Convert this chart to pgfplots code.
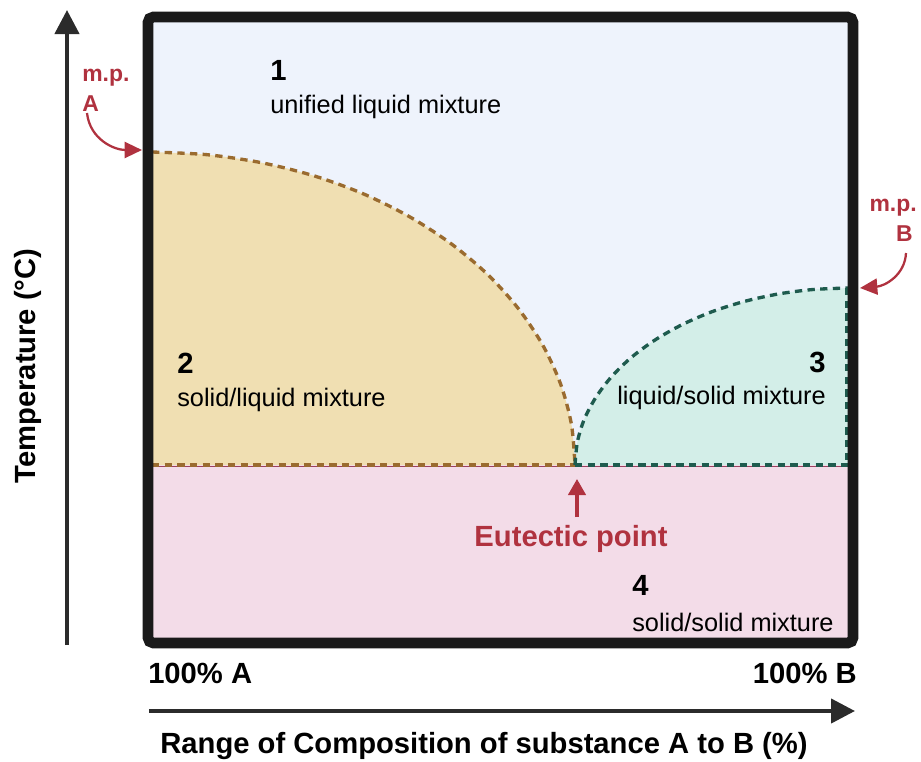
\documentclass[border=0pt]{standalone}
\usepackage{pgfplots}
\pgfplotsset{compat=1.18}
\usetikzlibrary{arrows.meta}
\usepackage{fontspec}
\setmainfont{Liberation Sans}
\definecolor{bgblue}{HTML}{EEF3FC}
\definecolor{tanfill}{HTML}{F0DFB2}
\definecolor{tealfill}{HTML}{D3EEE8}
\definecolor{pinkfill}{HTML}{F3DCE8}
\definecolor{tandash}{HTML}{9A6B2F}
\definecolor{tealdash}{HTML}{1E5B4E}
\definecolor{mpred}{HTML}{B0323F}
\definecolor{boxblack}{HTML}{1A1A1A}
\definecolor{arrgray}{HTML}{2B2B2B}
\definecolor{maroon}{HTML}{9C4060}
\begin{document}
\begin{tikzpicture}
\begin{axis}[
  width=528.75pt, height=469.5pt, scale only axis,
  xmin=148, xmax=853, ymin=17, ymax=643, y dir=reverse,
  xtick=\empty, ytick=\empty,
  clip=false,
  axis line style={draw=none},
]
% background
\addplot[fill=bgblue, draw=none] coordinates {(148,17) (853,17) (853,643) (148,643)} -- cycle;
\addplot[fill=pinkfill, draw=none] coordinates {(148,465) (853,465) (853,643) (148,643)} -- cycle;
% left lobe fill
\addplot[fill=tanfill, draw=none, smooth] coordinates {
(148,152) (207.2,154.7) (261.5,162.7) (313.9,175.8) (363.5,193.9) (409.5,216.7) (451.1,243.7)
(487.6,274.4) (518.3,308.5) (542.8,345.2) (560.6,384.0) (571.4,424.2) (575,465)} -- (axis cs:148,465) -- cycle;
% right lobe fill
\addplot[fill=tealfill, draw=none, smooth] coordinates {
(575,465) (577.4,441.9) (584.3,419.2) (595.9,397.3) (611.7,376.5) (631.6,357.2) (655.3,339.8)
(682.2,324.6) (712,311.7) (744.1,301.5) (778.1,294.0) (813.2,289.5) (853,288)} -- (axis cs:853,465) -- cycle;
% eutectic line
\addplot[draw=maroon, line width=0.6pt] coordinates {(152,466.5) (849,466.5)};
% dashed curves
\addplot[draw=tandash, line width=2.5pt, dash pattern=on 5.5pt off 4pt, smooth] coordinates {
(152,152) (207.2,154.7) (261.5,162.7) (313.9,175.8) (363.5,193.9) (409.5,216.7) (451.1,243.7)
(487.6,274.4) (518.3,308.5) (542.8,345.2) (560.6,384.0) (571.4,424.2) (575,465)};
\addplot[draw=tandash, line width=2.5pt, dash pattern=on 5.5pt off 4pt] coordinates {(152,465) (575,465)};
\addplot[draw=tealdash, line width=2.5pt, dash pattern=on 5.5pt off 4pt, smooth] coordinates {
(575,465) (577.4,441.9) (584.3,419.2) (595.9,397.3) (611.7,376.5) (631.6,357.2) (655.3,339.8)
(682.2,324.6) (712,311.7) (744.1,301.5) (778.1,294.0) (813.2,289.5) (849,288)};
\addplot[draw=tealdash, line width=2.5pt, dash pattern=on 5.5pt off 4pt] coordinates {(575,465) (849,465)};
\addplot[draw=tealdash, line width=2.5pt, dash pattern=on 5.5pt off 4pt] coordinates {(847,288) (847,465)};
% border
\draw[boxblack, line width=8pt, rounded corners=4pt] (axis cs:148,17) rectangle (axis cs:853,643);
% region labels
\node[anchor=west, inner sep=0pt, font=\bfseries\fontsize{21.9}{24}\selectfont] at (axis cs:270,70) {1};
\node[anchor=west, inner sep=0pt, font=\fontsize{19}{22}\selectfont] at (axis cs:270,107) {unified liquid mixture};
\node[anchor=west, inner sep=0pt, font=\bfseries\fontsize{21.9}{24}\selectfont] at (axis cs:177,363) {2};
\node[anchor=west, inner sep=0pt, font=\fontsize{19}{22}\selectfont] at (axis cs:177,400) {solid/liquid mixture};
\node[anchor=east, inner sep=0pt, font=\bfseries\fontsize{21.9}{24}\selectfont] at (axis cs:826,362) {3};
\node[anchor=east, inner sep=0pt, font=\fontsize{19}{22}\selectfont] at (axis cs:826,398) {liquid/solid mixture};
\node[anchor=west, inner sep=0pt, font=\bfseries\fontsize{21.9}{24}\selectfont] at (axis cs:632,585) {4};
\node[anchor=west, inner sep=0pt, font=\fontsize{19}{22}\selectfont] at (axis cs:632,622) {solid/solid mixture};
% eutectic
\draw[mpred, line width=2.4pt, -{Triangle[length=12pt,width=13pt]}] (axis cs:577,517) -- (axis cs:577,479);
\node[inner sep=0pt, text=mpred, font=\bfseries\fontsize{21.9}{24}\selectfont] at (axis cs:571,539) {Eutectic point};
% m.p. labels
\node[anchor=west, inner sep=0pt, text=mpred, font=\bfseries\fontsize{17.2}{20}\selectfont] at (axis cs:82,78) {m.p.};
\node[anchor=west, inner sep=0pt, text=mpred, font=\bfseries\fontsize{17.2}{20}\selectfont] at (axis cs:82,104) {A};
\draw[mpred, line width=1.7pt, -{Triangle[length=13pt,width=12pt]}] (axis cs:87,113) .. controls (axis cs:90,140) and (axis cs:115,150) .. (axis cs:142,150);
\node[anchor=east, inner sep=0pt, text=mpred, font=\bfseries\fontsize{17.2}{20}\selectfont] at (axis cs:917,208) {m.p.};
\node[anchor=east, inner sep=0pt, text=mpred, font=\bfseries\fontsize{17.2}{20}\selectfont] at (axis cs:913,234) {B};
\draw[mpred, line width=1.7pt, -{Triangle[length=13pt,width=12pt]}] (axis cs:906,253) .. controls (axis cs:905,275) and (axis cs:885,286) .. (axis cs:860,288);
% axis arrows and labels
\draw[arrgray, line width=3.2pt, -{Triangle[length=18pt,width=18pt]}] (axis cs:67,645) -- (axis cs:67,10);
\draw[arrgray, line width=3.2pt, -{Triangle[length=18pt,width=18pt]}] (axis cs:149,711) -- (axis cs:855,711);
\node[anchor=west, inner sep=0pt, font=\bfseries\fontsize{21.9}{24}\selectfont] at (axis cs:148,673) {100\% A};
\node[anchor=east, inner sep=0pt, font=\bfseries\fontsize{21.9}{24}\selectfont] at (axis cs:857,673) {100\% B};
\node[inner sep=0pt, font=\bfseries\fontsize{21.9}{24}\selectfont] at (axis cs:484,746) {Range of Composition of substance A to B (\%)};
\node[inner sep=0pt, rotate=90, font=\bfseries\fontsize{21.9}{24}\selectfont] at (axis cs:28,366) {Temperature (°C)};
\coordinate (bbA) at (axis cs:0,0);
\coordinate (bbB) at (axis cs:921,761);
\end{axis}
\path (bbA) rectangle (bbB);
\end{tikzpicture}
\end{document}
